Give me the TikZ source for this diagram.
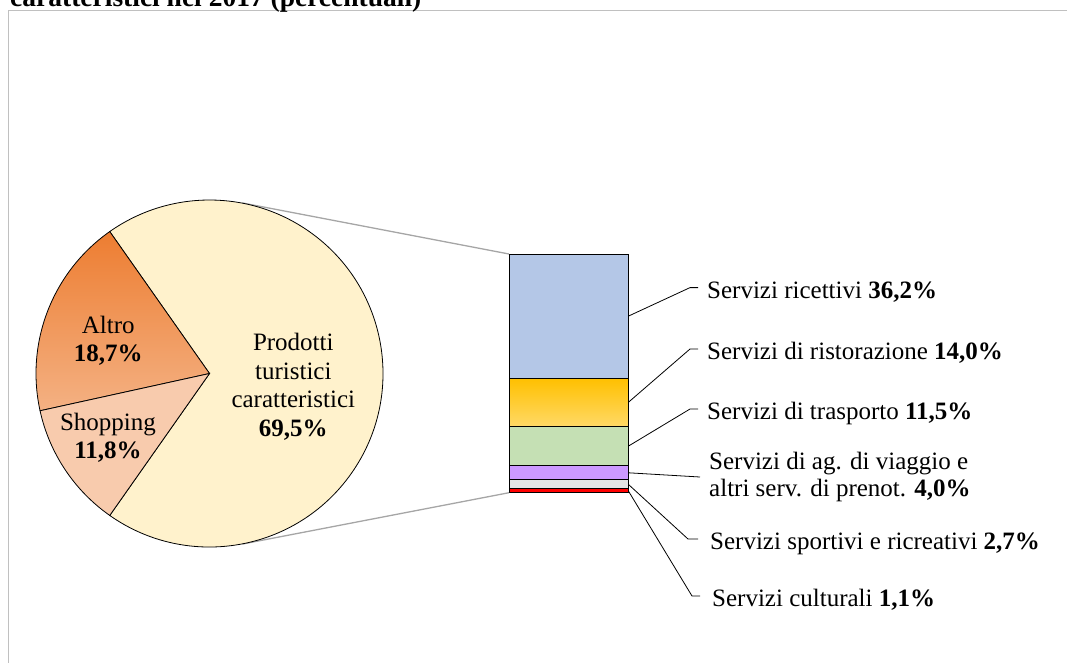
\documentclass[tikz,border=0pt]{standalone}
\usepackage{fontspec}
\setmainfont{Liberation Serif}
\usetikzlibrary{positioning,calc}
\definecolor{prodotti}{HTML}{FFF2CC}
\definecolor{altrotop}{HTML}{ED7D31}
\definecolor{altrobot}{HTML}{F4B183}
\definecolor{shopping}{HTML}{F8CBAD}
\definecolor{barblue}{HTML}{B4C7E7}
\definecolor{orgtop}{HTML}{FFC000}
\definecolor{orgbot}{HTML}{FFD966}
\definecolor{bargreen}{HTML}{C5E0B4}
\definecolor{barlilac}{HTML}{CC99FF}
\definecolor{bargray}{HTML}{E4E4E4}
\definecolor{barred}{HTML}{FF0000}
\definecolor{bk50}{HTML}{A6A6A6}
\definecolor{bk30}{HTML}{C0C0C0}
\tikzset{
  slice/.style={draw=black, line width=0.8pt},
  barseg/.style={rectangle, draw=black, line width=0.9pt,
    minimum width=119.3pt, inner sep=0pt, outer sep=0pt},
  lbl/.style={anchor=west, inner xsep=9pt, inner ysep=0pt, align=left,
    font=\fontsize{25}{27.5}\selectfont},
  lblone/.style={lbl, text height=21.5pt, text depth=0pt},
  leader/.style={draw=black, line width=0.8pt},
  zoomline/.style={draw=bk50, line width=1.3pt},
  pielabel/.style={align=center, inner sep=0pt,
    font=\fontsize{25}{28.5}\selectfont},
}
\begin{document}
\begin{tikzpicture}[x=1pt, y=1pt]
\useasboundingbox (0,0) rectangle (1067,-662);
\draw[draw=bk30, line width=1.6pt] (8.5,-700) -- (8.5,-10.5) -- (1100,-10.5);
\node[anchor=base west, inner sep=0pt, font=\fontsize{27.5}{30}\selectfont\bfseries] (title) at (10,-6.5) {caratteristici nel 2017 (percentuali)};

\node[circle, minimum size=347pt, inner sep=0pt] (pie) at (209.5,-373.5) {};
\coordinate (btop) at (568.65,-254);
\foreach \p/\n/\ct/\cb [remember=\n as \prev (initially btop)] in
  {36.2/ric/barblue/barblue, 14.0/ris/orgtop/orgbot, 11.5/tra/bargreen/bargreen,
   4.0/age/barlilac/barlilac, 2.7/spo/bargray/bargray, 1.1/cul/barred/barred}
  \node[barseg, minimum height=\p*3.4345, top color=\ct, bottom color=\cb,
    below=0pt of \prev] (\n) {};

\draw[zoomline] (tangent cs:node=pie,point={(ric.north west)},solution=1) -- (ric.north west);
\draw[zoomline] (tangent cs:node=pie,point={(cul.south west)},solution=2) -- (cul.south west);

\filldraw[slice, fill=prodotti] (pie.center) -- ++(-125.1:173.5)
  arc[start angle=-125.1, end angle=125.1, radius=173.5] -- cycle;
\shadedraw[slice, top color=altrotop, bottom color=altrobot] (pie.center) -- ++(125.1:173.5)
  arc[start angle=125.1, end angle=192.4, radius=173.5] -- cycle;
\filldraw[slice, fill=shopping] (pie.center) -- ++(192.4:173.5)
  arc[start angle=192.4, end angle=234.9, radius=173.5] -- cycle;

\node[pielabel] (prod) at (293.3,-387) {Prodotti\\turistici\\caratteristici\\\textbf{69,5\%}};
\node[pielabel] (altro) at (108.3,-341) {Altro\\\textbf{18,7\%}};
\node[pielabel] (shop) at (108,-438) {Shopping\\\textbf{11,8\%}};

\node[lblone] (lric) at (698,-287.6) {Servizi ricettivi \textbf{36,2\%}};
\node[lblone] (lris) at (698,-349) {Servizi di ristorazione \textbf{14,0\%}};
\node[lblone] (ltra) at (698,-409) {Servizi di trasporto \textbf{11,5\%}};
\node[lbl] (lage) at (700,-477) {Servizi di ag. di viaggio e\\altri serv. di prenot. \textbf{4,0\%}};
\node[lblone, inner xsep=12pt] (lspo) at (698,-539) {Servizi sportivi e ricreativi \textbf{2,7\%}};
\node[lblone, inner xsep=12pt] (lcul) at (700,-596) {Servizi culturali \textbf{1,1\%}};

\draw[leader] (ric.east) -- ([xshift=-8pt]lric.west) -- (lric.west);
\draw[leader] (ris.east) -- ([xshift=-8pt]lris.west) -- (lris.west);
\draw[leader] (tra.east) -- ([xshift=-8pt]ltra.west) -- (ltra.west);
\draw[leader] (age.east) -- (lage.west);
\draw[leader] (spo.east) -- ([xshift=-10pt]lspo.west) -- (lspo.west);
\draw[leader] (cul.east) -- ([xshift=-8pt]lcul.west) -- (lcul.west);
\end{tikzpicture}
\end{document}
